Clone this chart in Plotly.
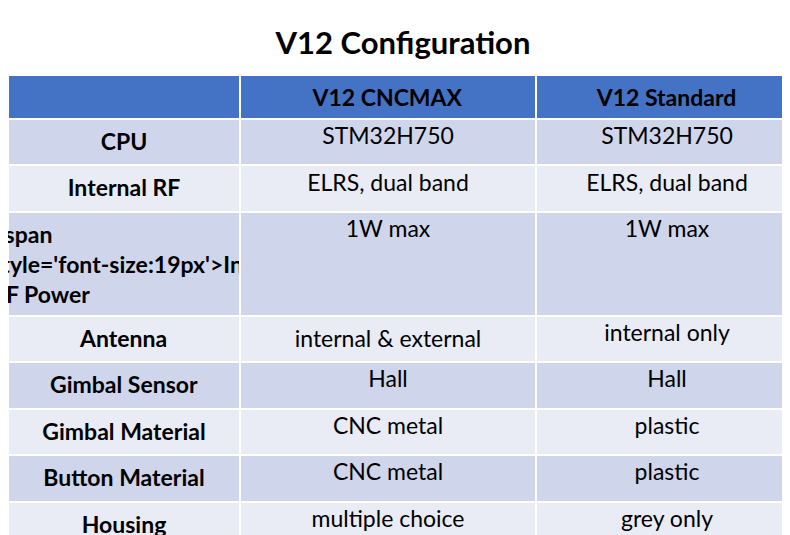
import plotly.graph_objects as go

header = ["", "V12 CNCMAX", "V12 Standard"]
features = ["CPU", "Internal RF", "Int. RF Power", "Antenna", "Gimbal Sensor",
            "Gimbal Material", "Button Material", "Housing", "Display"]
cncmax = ["STM32H750", "ELRS, dual band", "1W max", "internal & external", "Hall",
          "CNC metal", "CNC metal", "multiple choice", "2.4 inch IPS"]
standard = ["STM32H750", "ELRS, dual band", "1W max", "internal only", "Hall",
            "plastic", "plastic", "grey only", "2.4 inch IPS"]

def label(f):
    # the power row uses a smaller font in the original
    if f == "Int. RF Power":
        return "<b><span style='font-size:19px'>%s</span></b>" % f
    return "<b>%s</b>" % f

row_colors = ["#CFD5EA" if i % 2 == 0 else "#E9EBF5" for i in range(len(features))]

fig = go.Figure(go.Table(
    columnwidth=[232, 296, 262],
    domain=dict(x=[0, 1], y=[0.013, 0.875]),
    header=dict(
        values=["<b>%s</b>" % h for h in header],
        fill_color="#4472C4",
        line=dict(color="white", width=2),
        align="center",
        height=44,
        font=dict(family="Lato", size=23, color="black"),
    ),
    cells=dict(
        values=[[label(f) for f in features], cncmax, standard],
        fill_color=[row_colors] * 3,
        line=dict(color="white", width=2),
        align="center",
        height=46.5,
        font=dict(family="Lato", size=23, color="black"),
    ),
))

fig.update_layout(
    width=790, height=535,
    margin=dict(l=0, r=0, t=0, b=0),
    paper_bgcolor="white",
    title=dict(text="<b>V12 Configuration</b>", x=0.5, xanchor="center",
               y=1 - 35 / 535, yanchor="middle",
               font=dict(family="Lato", size=31, color="black")),
)

fig.write_html("out.html")
